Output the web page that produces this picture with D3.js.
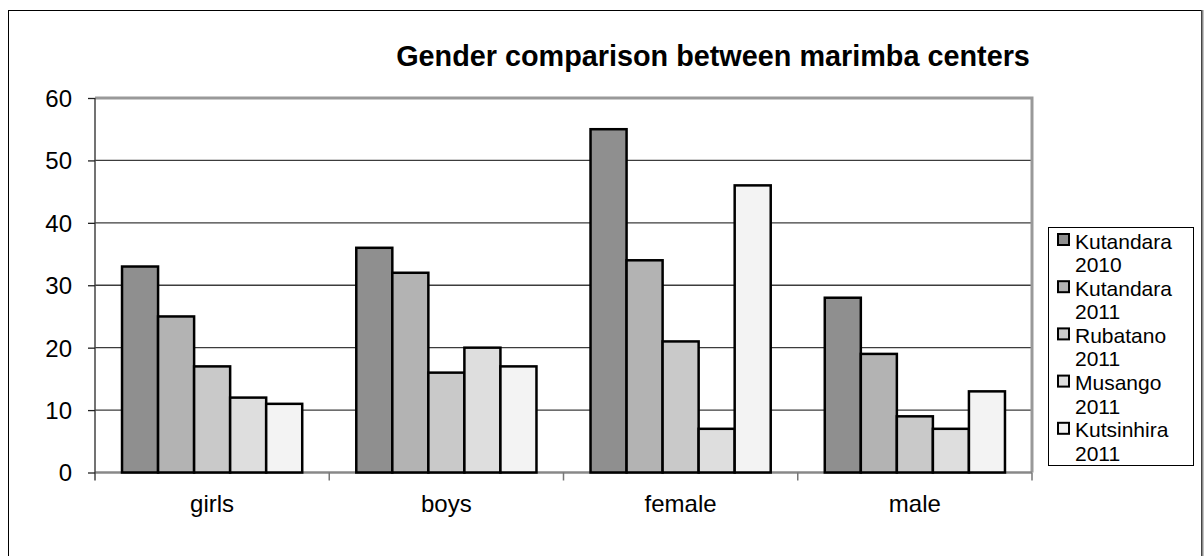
<!DOCTYPE html>
<html>
<head>
<meta charset="utf-8">
<script src="https://cdn.jsdelivr.net/npm/d3@7"></script>
<style>
  html, body { margin: 0; padding: 0; background: #fff; }
  svg { display: block; }
  text { font-family: "Liberation Sans", Arial, sans-serif; fill: #000; }
</style>
</head>
<body>
<svg id="chart" width="1204" height="556"></svg>
<script>
// Participants by group at each marimba center
const categories = ["girls", "boys", "female", "male"];
const seriesNames = ["Kutandara 2010", "Kutandara 2011", "Rubatano 2011", "Musango 2011", "Kutsinhira 2011"];
const kutandara2010 = [33, 36, 55, 28];
const kutandara2011 = [25, 32, 34, 19];
const rubatano2011 = [17, 16, 21, 9];
const musango2011 = [12, 20, 7, 7];
const kutsinhira2011 = [11, 17, 46, 13];
const yTicks = [0, 10, 20, 30, 40, 50, 60];
const titleText = "Gender comparison between marimba centers";

const seriesValues = [kutandara2010, kutandara2011, rubatano2011, musango2011, kutsinhira2011];
const fills = ["#8f8f8f", "#b3b3b3", "#c9c9c9", "#dedede", "#f3f3f3"];

const svg = d3.select("#chart");

// outer chart frame
svg.append("rect")
  .attr("x", 8.5).attr("y", 10.5)
  .attr("width", 1193).attr("height", 600)
  .attr("fill", "#fff").attr("stroke", "#000").attr("stroke-width", 1);
svg.append("line")
  .attr("x1", 1202.5).attr("x2", 1202.5).attr("y1", 10).attr("y2", 556)
  .attr("stroke", "#888").attr("stroke-width", 2);

const plot = { left: 95, right: 1032, top: 98, bottom: 472.5 };

const x0 = d3.scaleBand().domain(categories).range([plot.left, plot.right]).padding(0);
const x1 = d3.scaleBand().domain(seriesNames).range([0, x0.bandwidth()])
  .paddingInner(0).paddingOuter(0.75);
const y = d3.scaleLinear().domain([0, 60]).range([plot.bottom, plot.top]);

// horizontal gridlines
svg.append("g")
  .selectAll("line")
  .data(yTicks.filter(t => t > 0 && t < 60))
  .join("line")
  .attr("x1", plot.left).attr("x2", plot.right)
  .attr("y1", d => y(d)).attr("y2", d => y(d))
  .attr("stroke", "#3c3c3c").attr("stroke-width", 1.3);

// plot area border (top and right)
svg.append("path")
  .attr("d", `M${plot.left},${y(60)} H${plot.right} V${plot.bottom}`)
  .attr("fill", "none").attr("stroke", "#999").attr("stroke-width", 3);

// x axis baseline
svg.append("line")
  .attr("x1", plot.left).attr("x2", plot.right)
  .attr("y1", plot.bottom).attr("y2", plot.bottom)
  .attr("stroke", "#888").attr("stroke-width", 2.5);

// bars
const groups = svg.append("g")
  .selectAll("g")
  .data(categories)
  .join("g")
  .attr("transform", d => `translate(${x0(d)},0)`);

groups.selectAll("rect")
  .data((c, ci) => seriesNames.map((s, si) => ({ s, si, v: seriesValues[si][ci] })))
  .join("rect")
  .attr("x", d => x1(d.s))
  .attr("y", d => y(d.v))
  .attr("width", x1.bandwidth())
  .attr("height", d => y(0) - y(d.v))
  .attr("fill", d => fills[d.si])
  .attr("stroke", "#000")
  .attr("stroke-width", 2.5);

// y axis
const yAxis = d3.axisLeft(y).tickValues(yTicks).tickSize(7).tickPadding(16);
const gy = svg.append("g")
  .attr("transform", `translate(${plot.left},0)`)
  .call(yAxis);
gy.select(".domain").attr("stroke", "#444").attr("stroke-width", 1.5)
  .attr("d", `M0,${plot.top}V${plot.bottom + 8}`);
gy.selectAll(".tick line").attr("stroke", "#222").attr("stroke-width", 1.3);
gy.selectAll(".tick text")
  .attr("font-size", 24)
  .attr("font-family", "Liberation Sans, Arial, sans-serif")
  .attr("fill", "#000")
  .attr("dy", "0.35em");

// x axis ticks at category boundaries
const boundaries = categories.map(c => x0(c)).concat([plot.right]);
svg.append("g")
  .selectAll("line")
  .data(boundaries.slice(1))
  .join("line")
  .attr("x1", d => d).attr("x2", d => d)
  .attr("y1", plot.bottom).attr("y2", plot.bottom + 8)
  .attr("stroke", "#777").attr("stroke-width", 1.5);

// category labels
svg.append("g")
  .selectAll("text")
  .data(categories)
  .join("text")
  .attr("x", d => x0(d) + x0.bandwidth() / 2)
  .attr("y", 512)
  .attr("text-anchor", "middle")
  .attr("font-size", 24)
  .text(d => d);

// title
svg.append("text")
  .attr("x", 713)
  .attr("y", 66)
  .attr("text-anchor", "middle")
  .attr("font-size", 28.8)
  .attr("font-weight", "bold")
  .text(titleText);

// legend: each entry wraps onto two lines; the last line is clipped by the box
const legend = { x: 1048.5, y: 227.5, w: 145, h: 238 };
const itemStep = 47.2;
svg.append("defs").append("clipPath").attr("id", "legclip")
  .append("rect").attr("x", legend.x).attr("y", legend.y)
  .attr("width", legend.w).attr("height", legend.h);
svg.append("rect")
  .attr("x", legend.x).attr("y", legend.y)
  .attr("width", legend.w).attr("height", legend.h)
  .attr("fill", "#fff").attr("stroke", "#000").attr("stroke-width", 1);

const legItems = svg.append("g").attr("clip-path", "url(#legclip)")
  .selectAll("g")
  .data(seriesNames)
  .join("g")
  .attr("transform", (d, i) => `translate(${legend.x}, ${legend.y + 21 + i * itemStep})`);

legItems.append("rect")
  .attr("x", 9.5).attr("y", -14.5)
  .attr("width", 11).attr("height", 11)
  .attr("fill", (d, i) => fills[i])
  .attr("stroke", "#000").attr("stroke-width", 2);

legItems.append("text")
  .attr("x", 26.5)
  .attr("y", 0)
  .attr("font-size", 21)
  .each(function (d) {
    const parts = d.split(" ");
    const t = d3.select(this);
    t.append("tspan").attr("x", 26.5).attr("dy", 0).text(parts[0]);
    t.append("tspan").attr("x", 26.5).attr("dy", itemStep / 2).text(parts[1]);
  });
</script>
</body>
</html>
